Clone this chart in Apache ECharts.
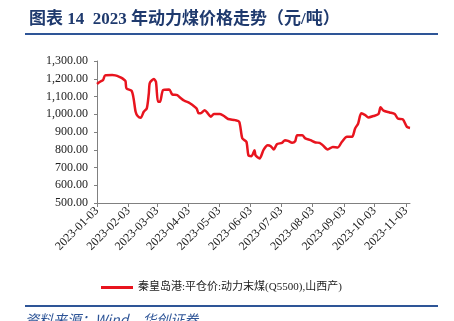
<!DOCTYPE html>
<html>
<head>
<meta charset="utf-8">
<script src="https://cdn.jsdelivr.net/npm/echarts@6/dist/echarts.min.js"></script>
<style>
html,body{margin:0;padding:0;background:#fff;overflow:hidden;}
#chart{width:454px;height:321px;}
</style>
</head>
<body>
<div id="chart"></div>
<script>
var titleText = '图表 14  2023 年动力煤价格走势（元/吨）';
var legendName = '秦皇岛港:平仓价:动力末煤(Q5500),山西产)';
var sourceText = '资料来源：Wind，华创证券';

var dates = ['2023-01-03','2023-01-06','2023-01-09','2023-01-11','2023-01-18','2023-01-21','2023-01-25','2023-01-28','2023-01-31',
'2023-02-01','2023-02-06','2023-02-08','2023-02-10','2023-02-12','2023-02-15','2023-02-18','2023-02-21','2023-02-23','2023-02-24','2023-02-28',
'2023-03-02','2023-03-04','2023-03-06','2023-03-09','2023-03-15','2023-03-18','2023-03-23','2023-03-26','2023-03-30',
'2023-04-03','2023-04-07','2023-04-11','2023-04-13','2023-04-15','2023-04-19','2023-04-22','2023-04-25','2023-04-28',
'2023-05-04','2023-05-08','2023-05-12','2023-05-19','2023-05-23','2023-05-26','2023-05-30',
'2023-06-01','2023-06-04','2023-06-07','2023-06-08','2023-06-12','2023-06-16','2023-06-20','2023-06-23','2023-06-26','2023-06-29',
'2023-07-04','2023-07-07','2023-07-10','2023-07-14','2023-07-17','2023-07-19','2023-07-24','2023-07-27',
'2023-08-01','2023-08-06','2023-08-10','2023-08-13','2023-08-18','2023-08-23','2023-08-28',
'2023-09-01','2023-09-06','2023-09-11','2023-09-14','2023-09-17','2023-09-20','2023-09-24','2023-09-27',
'2023-10-02','2023-10-07','2023-10-09','2023-10-12','2023-10-18','2023-10-23','2023-10-26','2023-10-31',
'2023-11-04','2023-11-07'];
var prices = [1170,1183,1193,1219,1221,1219,1211,1202,1187,
1146,1132,1089,1014,990,980,1014,1033,1118,1177,1198,
1183,1070,1070,1136,1140,1112,1108,1093,1076,
1067,1052,1033,1005,1005,1023,1005,986,1001,
1001,990,973,967,957,864,845,
769,764,797,769,751,801,826,820,801,831,
839,854,850,839,848,882,882,864,
854,841,839,826,801,816,813,
845,873,873,920,948,1005,995,982,
990,1001,1039,1020,1010,1001,976,971,
929,923];
var tickDates = ['2023-01-03','2023-02-03','2023-03-03','2023-04-03','2023-05-03','2023-06-03','2023-07-03','2023-08-03','2023-09-03','2023-10-03','2023-11-03'];
var axisStart = '2023-01-03';
var axisEnd = '2023-11-07';
var yMin = 500, yMax = 1300, yStep = 100;

function ts(s){var p=s.split('-');return Date.UTC(+p[0],+p[1]-1,+p[2]);}
function pad(n){return n<10?'0'+n:''+n;}
function fmtDate(v){var d=new Date(v);return d.getUTCFullYear()+'-'+pad(d.getUTCMonth()+1)+'-'+pad(d.getUTCDate());}
function fmtNum(v){var s=v.toFixed(2);var parts=s.split('.');parts[0]=parts[0].replace(/\B(?=(\d{3})+(?!\d))/g,',');return parts.join('.');}

var seriesData = dates.map(function(d,i){return [ts(d),prices[i]];});
var tickVals = tickDates.map(ts);

var chart = echarts.init(document.getElementById('chart'), null, {renderer:'canvas'});
chart.setOption({
  animation:false,
  backgroundColor:'#fff',
  title:{
    text:titleText,
    left:24, top:6,
    textStyle:{fontFamily:'"Liberation Serif","Noto Sans CJK SC",serif',fontSize:17,fontWeight:'bold',color:'#1F3A6E'}
  },
  graphic:[
    {type:'rect',shape:{x:25,y:33,width:413,height:2},style:{fill:'#2E5597'},silent:true},
    {type:'rect',shape:{x:25,y:305,width:413,height:2},style:{fill:'#2E5597'},silent:true},
    {type:'text',left:25,top:313,style:{text:sourceText,fontFamily:'"Noto Sans CJK SC",sans-serif',fontSize:14,fontStyle:'italic',fill:'#2E5597'}}
  ],
  legend:{
    data:[legendName],
    left:96, top:277,
    itemWidth:32, itemHeight:3,
    itemGap:4,
    icon:'rect',
    textStyle:{fontFamily:'"Liberation Serif","Noto Sans CJK SC",serif',fontSize:11,color:'#222'}
  },
  grid:{left:97,right:44,top:61,bottom:118,containLabel:false},
  xAxis:{
    type:'value',
    min:ts(axisStart), max:ts(axisEnd),
    axisLine:{lineStyle:{color:'#808080',width:1}},
    axisTick:{show:true,customValues:tickVals,length:4,lineStyle:{color:'#808080'}},
    axisLabel:{customValues:tickVals,rotate:45,formatter:function(v){return fmtDate(v);},
      fontFamily:'"Liberation Serif",serif',fontSize:12,color:'#222',margin:6},
    splitLine:{show:false}
  },
  yAxis:{
    type:'value',
    min:yMin,max:yMax,interval:yStep,
    axisLine:{show:true,lineStyle:{color:'#808080',width:1}},
    axisTick:{show:true,length:3,lineStyle:{color:'#808080'}},
    axisLabel:{formatter:function(v){return fmtNum(v);},fontFamily:'"Liberation Serif",serif',fontSize:12,color:'#222',margin:9},
    splitLine:{show:false}
  },
  series:[{
    name:legendName,
    type:'line',
    data:seriesData,
    showSymbol:false,
    smooth:0.25,
    lineStyle:{color:'#E8141E',width:2.5},
    itemStyle:{color:'#E8141E'}
  }]
});
</script>
</body>
</html>
